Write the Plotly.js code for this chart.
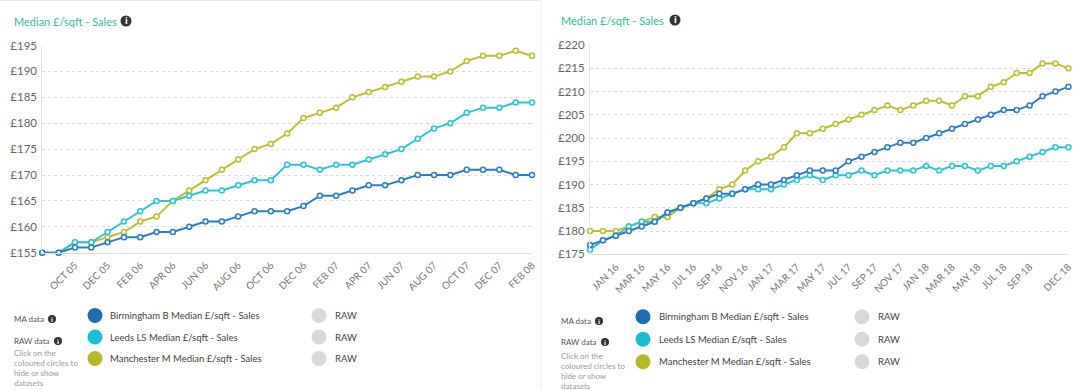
<!DOCTYPE html>
<html>
<head>
<meta charset="utf-8">
<script src="https://cdn.plot.ly/plotly-3.0.1.min.js"></script>
<style>
html,body{margin:0;padding:0;background:#fff;}
#chart{width:1086px;height:390px;}
</style>
</head>
<body>
<div id="chart"></div>
<script>
// ---------- DATA ----------
const monthsLeft = ['AUG 05','SEP 05','OCT 05','NOV 05','DEC 05','JAN 06','FEB 06','MAR 06','APR 06','MAY 06','JUN 06','JUL 06','AUG 06','SEP 06','OCT 06','NOV 06','DEC 06','JAN 07','FEB 07','MAR 07','APR 07','MAY 07','JUN 07','JUL 07','AUG 07','SEP 07','OCT 07','NOV 07','DEC 07','JAN 08','FEB 08'];
const ticksLeft = ['OCT 05','DEC 05','FEB 06','APR 06','JUN 06','AUG 06','OCT 06','DEC 06','FEB 07','APR 07','JUN 07','AUG 07','OCT 07','DEC 07','FEB 08'];
const birminghamLeft = [155,155,156,156,157,158,158,159,159,160,161,161,162,163,163,163,164,166,166,167,168,168,169,170,170,170,171,171,171,170,170];
const leedsLeft      = [155,155,157,157,159,161,163,165,165,166,167,167,168,169,169,172,172,171,172,172,173,174,175,177,179,180,182,183,183,184,184];
const manchesterLeft = [155,155,157,157,158,159,161,162,165,167,169,171,173,175,176,178,181,182,183,185,186,187,188,189,189,190,192,193,193,194,193];

const monthsRight = ['NOV 15','DEC 15','JAN 16','FEB 16','MAR 16','APR 16','MAY 16','JUN 16','JUL 16','AUG 16','SEP 16','OCT 16','NOV 16','DEC 16','JAN 17','FEB 17','MAR 17','APR 17','MAY 17','JUN 17','JUL 17','AUG 17','SEP 17','OCT 17','NOV 17','DEC 17','JAN 18','FEB 18','MAR 18','APR 18','MAY 18','JUN 18','JUL 18','AUG 18','SEP 18','OCT 18','NOV 18','DEC 18'];
const ticksRight = ['JAN 16','MAR 16','MAY 16','JUL 16','SEP 16','NOV 16','JAN 17','MAR 17','MAY 17','JUL 17','SEP 17','NOV 17','JAN 18','MAR 18','MAY 18','JUL 18','SEP 18','DEC 18'];
const birminghamRight = [177,178,179,180,181,182,184,185,186,187,188,188,189,190,190,191,192,193,193,193,195,196,197,198,199,199,200,201,202,203,204,205,206,206,207,209,210,211];
const leedsRight      = [176,178,179,181,182,182,184,185,186,186,187,188,189,189,189,190,191,192,191,192,192,193,192,193,193,193,194,193,194,194,193,194,194,195,196,197,198,198];
const manchesterRight = [180,180,180,181,182,183,183,185,186,187,189,190,193,195,196,198,201,201,202,203,204,205,206,207,206,207,208,208,207,209,209,211,212,214,214,216,216,215];

const seriesNames = ['Birmingham B Median £/sqft - Sales','Leeds LS Median £/sqft - Sales','Manchester M Median £/sqft - Sales'];
const chartTitle = 'Median £/sqft - Sales';

// ---------- STYLE ----------
const lineColors = ['#2f7dbf','#2fc3d5','#bcbe36'];
const dotColors  = ['#1f6db3','#1bbdd3','#b7b82a'];
const FONT = 'Lato, "Open Sans", sans-serif';
const W = 1086, H = 390;
const px = x => x / W;
const py = y => 1 - y / H;

function mk(x, y, idx, xa, ya) {
  return {
    x: x, y: y, xaxis: xa, yaxis: ya, type: 'scatter', mode: 'lines+markers',
    name: seriesNames[idx], showlegend: false, cliponaxis: false,
    line: {color: lineColors[idx], width: 2},
    marker: {symbol: 'circle', size: 5, color: '#ffffff', line: {color: lineColors[idx], width: 1.5}},
    hoverinfo: 'x+y'
  };
}

const data = [
  mk(monthsLeft, manchesterLeft, 2, 'x', 'y'),
  mk(monthsLeft, leedsLeft, 1, 'x', 'y'),
  mk(monthsLeft, birminghamLeft, 0, 'x', 'y'),
  mk(monthsRight, manchesterRight, 2, 'x2', 'y2'),
  mk(monthsRight, leedsRight, 1, 'x2', 'y2'),
  mk(monthsRight, birminghamRight, 0, 'x2', 'y2')
];

function xax(dom, cats, ticks, anchor) {
  return {
    domain: dom, anchor: anchor, type: 'category',
    categoryorder: 'array', categoryarray: cats,
    range: [0, cats.length - 1],
    tickmode: 'array', tickvals: ticks, ticktext: ticks,
    tickangle: -45, tickfont: {family: FONT, size: 10, color: '#777'},
    showgrid: false, showline: true, linecolor: '#dddddd', linewidth: 1,
    ticks: '', zeroline: false, fixedrange: true, ticklabelstandoff: 2
  };
}
function yax(dom, rng, anchor) {
  return {
    domain: dom, anchor: anchor, range: rng, dtick: 5, tick0: rng[0],
    tickprefix: '£', tickfont: {family: FONT, size: 11.5, color: '#666'},
    showgrid: true, gridcolor: '#dcdcdc', griddash: 'dot', gridwidth: 1,
    showline: true, linecolor: '#e6e6e6', linewidth: 1,
    ticks: '', zeroline: false, fixedrange: true, ticklabelstandoff: 2
  };
}

const annotations = [];
const shapes = [];

function panelDecor(ox, titleY, legendTop, legendStep, circleX, textX, rawCircleX, rawTextX, maY, rawY, clickY, iconX) {
  annotations.push({xref:'paper', yref:'paper', x:px(ox), y:py(titleY), xanchor:'left', yanchor:'middle',
    text: chartTitle, showarrow:false, font:{family:FONT, size:11, color:'#35b89a'}});
  infoIcon(iconX, titleY, 5.5, 8);
  annotations.push({xref:'paper', yref:'paper', x:px(ox), y:py(maY), xanchor:'left', yanchor:'middle',
    text:'MA data', showarrow:false, font:{family:FONT, size:8, color:'#555'}});
  infoIcon(ox + 40, maY, 4, 6);
  annotations.push({xref:'paper', yref:'paper', x:px(ox), y:py(rawY), xanchor:'left', yanchor:'middle',
    text:'RAW data', showarrow:false, font:{family:FONT, size:8, color:'#555'}});
  infoIcon(ox + 46, rawY, 4, 6);
  const clickLines = ['Click on the','coloured circles to','hide or show','datasets'];
  clickLines.forEach((t, i) => {
    annotations.push({xref:'paper', yref:'paper', x:px(ox), y:py(clickY + i * 10), xanchor:'left', yanchor:'middle',
      text:t, showarrow:false, font:{family:FONT, size:8, color:'#9a9a9a'}});
  });
  for (let i = 0; i < 3; i++) {
    const cy = legendTop + i * legendStep;
    shapes.push({type:'circle', xref:'paper', yref:'paper',
      x0:px(circleX - 7.5), x1:px(circleX + 7.5), y0:py(cy + 7.5), y1:py(cy - 7.5),
      fillcolor: dotColors[i], line:{width:0}});
    annotations.push({xref:'paper', yref:'paper', x:px(textX), y:py(cy), xanchor:'left', yanchor:'middle',
      text: seriesNames[i], showarrow:false, font:{family:FONT, size:9.5, color:'#444'}});
    shapes.push({type:'circle', xref:'paper', yref:'paper',
      x0:px(rawCircleX - 7.5), x1:px(rawCircleX + 7.5), y0:py(cy + 7.5), y1:py(cy - 7.5),
      fillcolor:'#d9d9d9', line:{width:0}});
    annotations.push({xref:'paper', yref:'paper', x:px(rawTextX), y:py(cy), xanchor:'left', yanchor:'middle',
      text:'RAW', showarrow:false, font:{family:FONT, size:9.5, color:'#444'}});
  }
}
function infoIcon(cx, cy, r, fs) {
  shapes.push({type:'circle', xref:'paper', yref:'paper',
    x0:px(cx - r), x1:px(cx + r), y0:py(cy + r), y1:py(cy - r), fillcolor:'#333', line:{width:0}});
  annotations.push({xref:'paper', yref:'paper', x:px(cx), y:py(cy), xanchor:'center', yanchor:'middle',
    text:'<b>i</b>', showarrow:false, font:{family:'DejaVu Sans', size:fs, color:'#fff'}});
}

panelDecor(12, 21, 315.5, 21.5, 95, 108, 319, 333, 319, 341, 353, 126);
panelDecor(559, 20, 316.7, 22.5, 643, 656.5, 862, 876, 321, 342, 356, 675);

shapes.push({type:'line', xref:'paper', yref:'paper', x0:0, x1:px(540), y0:py(0.5), y1:py(0.5), line:{color:'#e8e8e8', width:1}});
shapes.push({type:'line', xref:'paper', yref:'paper', x0:px(541), x1:px(541), y0:0, y1:1, line:{color:'#eeeeee', width:1}});

const layout = {
  width: W, height: H,
  margin: {l:0, r:0, t:0, b:0},
  paper_bgcolor: '#ffffff', plot_bgcolor: '#ffffff',
  showlegend: false,
  xaxis:  xax([px(42.3), px(532)], monthsLeft, ticksLeft, 'y'),
  yaxis:  yax([1 - 252.7/H, 1 - 45.5/H], [155, 195], 'x'),
  xaxis2: xax([px(590), px(1068.4)], monthsRight, ticksRight, 'y2'),
  yaxis2: yax([1 - 254.3/H, 1 - 45/H], [175, 220], 'x2'),
  annotations: annotations,
  shapes: shapes,
  font: {family: FONT}
};

Plotly.newPlot('chart', data, layout, {displayModeBar:false, staticPlot:false, responsive:false});
</script>
</body>
</html>
